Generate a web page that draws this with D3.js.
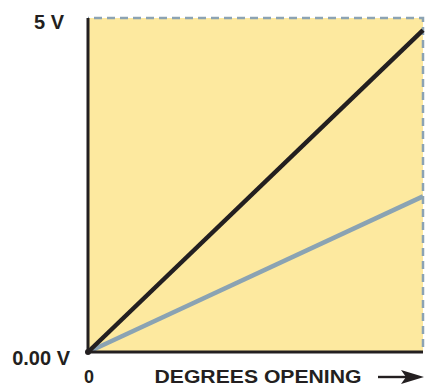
<!DOCTYPE html>
<html><head><meta charset="utf-8">
<script src="https://cdn.jsdelivr.net/npm/d3@7"></script>
<style>body{margin:0;background:#fff}svg{display:block}text{font-family:"Liberation Sans",Arial,sans-serif;font-weight:bold;fill:#231f20}</style>
</head><body>
<svg id="c" width="425" height="388"></svg>
<script>
const xDomain = [0, 1];
const yDomain = [0, 5];
const yTickLabels = ["0.00 V", "5 V"];
const xTickLabels = ["0"];
const blackLine = [[0, 0], [1, 4.82]];
const blueLine = [[0, 0], [1, 2.33]];
const xTitle = "DEGREES OPENING";

const svg = d3.select("#c");
const m = {l: 88, t: 18, r: 423, b: 352};
const x = d3.scaleLinear().domain(xDomain).range([m.l, m.r]);
const y = d3.scaleLinear().domain(yDomain).range([m.b, m.t]);

svg.append("rect").attr("x", x(0)).attr("y", y(5)).attr("width", x(1)-x(0)).attr("height", y(0)-y(5)).attr("fill", "#fde99f");
svg.append("path").attr("d", `M${x(0)},${y(5)}H${x(1)}V${y(0)}`).attr("fill","none").attr("stroke","#8ca3b3").attr("stroke-width",2.5).attr("stroke-dasharray","8,5").attr("stroke-dashoffset",-6);

const line = d3.line().x(d => x(d[0])).y(d => y(d[1]));
svg.append("path").attr("d", line(blueLine)).attr("fill","none").attr("stroke","#8aa3b3").attr("stroke-width",4.5);
svg.append("path").attr("d", line(blackLine)).attr("fill","none").attr("stroke","#231f20").attr("stroke-width",4.5);

svg.append("line").attr("x1", x(0)).attr("x2", x(0)).attr("y1", y(5)).attr("y2", y(0)).attr("stroke","#231f20").attr("stroke-width",3);
svg.append("line").attr("x1", x(0)).attr("x2", x(1)).attr("y1", y(0)).attr("y2", y(0)).attr("stroke","#231f20").attr("stroke-width",3);
svg.append("circle").attr("cx", x(0)).attr("cy", y(0)).attr("r", 3).attr("fill","#231f20");

svg.append("text").attr("x", 64).attr("y", 29).attr("text-anchor","end").attr("font-size",20).text(yTickLabels[1]);
svg.append("text").attr("x", 70).attr("y", 365).attr("text-anchor","end").attr("font-size",20).text(yTickLabels[0]);
svg.append("text").attr("x", 89).attr("y", 383).attr("text-anchor","middle").attr("font-size",18).text(xTickLabels[0]);
svg.append("text").attr("x", 258).attr("y", 383).attr("text-anchor","middle").attr("font-size",18).attr("textLength",207).attr("lengthAdjust","spacingAndGlyphs").text(xTitle);
svg.append("line").attr("x1", 378).attr("x2", 410).attr("y1", 377).attr("y2", 377).attr("stroke","#231f20").attr("stroke-width",2.4);
svg.append("path").attr("d", "M401,370L424,377L401,384L406,377Z").attr("fill","#231f20");
</script>
</body></html>
